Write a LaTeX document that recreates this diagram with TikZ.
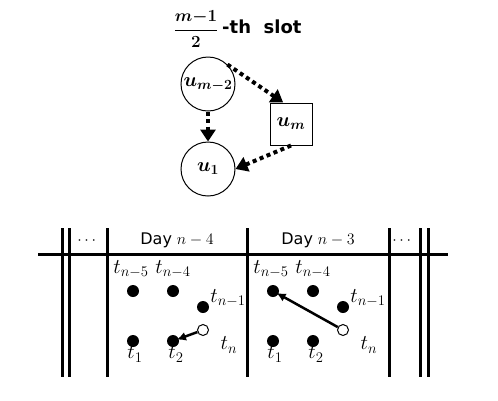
\RequirePackage{fix-cm}
\documentclass[tikz,border=0pt]{standalone}
\usepackage{amsmath,amssymb,bm}
\usepackage{fontspec}
\setsansfont{DejaVu Sans}
\usetikzlibrary{arrows.meta,positioning}

\begin{document}
\begin{tikzpicture}[
  x=1pt, y=-1pt,
  font=\fontsize{16}{19}\selectfont,
  unode/.style={circle, draw, line width=1pt, minimum size=54pt, inner sep=0pt, font=\fontsize{20}{22}\selectfont},
  mnode/.style={draw, line width=1pt, minimum size=42pt, inner sep=0pt, font=\fontsize{20}{22}\selectfont},
  darr/.style={-{Triangle[length=12pt,width=15pt]}, line width=4pt, dash pattern=on 4pt off 3.5pt},
  grid/.style={line width=3pt},
  dot/.style={circle, fill, minimum size=12pt, inner sep=0pt},
  odot/.style={circle, draw, fill=white, line width=1pt, minimum size=11pt, inner sep=0pt},
  tlab/.style={inner sep=0pt, font=\fontsize{21}{23}\selectfont},
  sarr/.style={-{Latex[length=9pt,width=9pt]}, line width=2.5pt, shorten >=-2pt}
]
\useasboundingbox (0,0) rectangle (498,400);

% slot graph
\node[inner sep=0pt, font=\fontsize{17}{20}\selectfont] (frac) at (196,29) {$\bm{\dfrac{m{-}1}{2}}$};
\node[inner sep=0pt, anchor=base west, font=\sffamily\bfseries\fontsize{18}{20}\selectfont] (title) at (222,33) {-th\ \ slot};
\node[unode] (um2) at (208,84) {$\bm{u_{m-2}}$};
\node[unode] (u1) at (208,169) {$\bm{u_{1}}$};
\node[mnode] (um) at (291,124) {$\bm{u_{m}}$};
\draw[darr] (um2) -- (u1);
\draw[darr] (um2.45) -- (um.110);
\draw[darr] (um.south) -- (u1.east);

% days table
\draw[grid] (38,254) -- (448,254);
\foreach \x in {62,69,107,247,389,420,428}
  \draw[grid] (\x,228) -- (\x,377);
\node (dl) at (88,241) {$\cdots$};
\node (dr) at (403,241) {$\cdots$};
\node (day4) at (177,240) {\textsf{Day} $n-4$};
\node (day3) at (318,240) {\textsf{Day} $n-3$};

\foreach \d/\dx in {a/0,b/140} {
  \node[dot] (\d-n5) at (\dx+133,291) {};
  \node[dot] (\d-n4) at (\dx+173,291) {};
  \node[dot] (\d-n1) at (\dx+203,307) {};
  \node[dot] (\d-1) at (\dx+133,341) {};
  \node[dot] (\d-2) at (\dx+173,341) {};
  \node[odot] (\d-n) at (\dx+203,330) {};
  \node[tlab] (\d-ln5) at (\dx+131,269) {$t_{n-5}$};
  \node[tlab] (\d-ln4) at (\dx+173,269) {$t_{n-4}$};
  \node[tlab] (\d-ln1) at (\dx+228,298) {$t_{n-1}$};
  \node[tlab] (\d-ln) at (\dx+229,345) {$t_{n}$};
  \node[tlab] (\d-l1) at (\dx+135,354) {$t_{1}$};
  \node[tlab] (\d-l2) at (\dx+176,354) {$t_{2}$};
}
\draw[sarr] (a-n) -- (a-2);
\draw[sarr] (b-n) -- (b-n5);
\end{tikzpicture}
\end{document}
